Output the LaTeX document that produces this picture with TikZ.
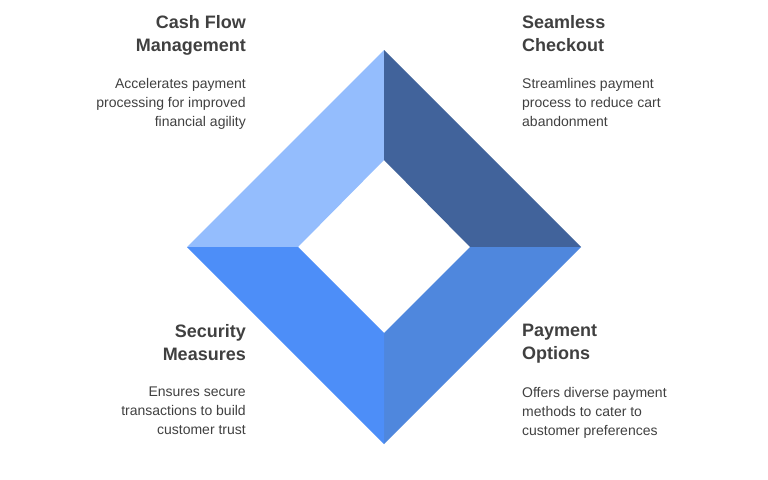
\documentclass[tikz,border=0pt]{standalone}
\usepackage{fontspec}
\setmainfont{Liberation Sans}
\begin{document}
\begin{tikzpicture}[x=1pt,y=-1pt,
  ttl/.style={font=\fontsize{18}{23}\selectfont\bfseries,text=black!75,inner sep=0pt},
  bdy/.style={font=\fontsize{14}{19}\selectfont,text=black!75,inner sep=0pt}]
\useasboundingbox (0,0) rectangle (768,479);
\definecolor{qa}{HTML}{94BDFD}
\definecolor{qb}{HTML}{41639B}
\definecolor{qc}{HTML}{4F87DD}
\definecolor{qd}{HTML}{4D8EF8}
\coordinate (OT) at (384,50); \coordinate (OR) at (581,247);
\coordinate (OB) at (384,444); \coordinate (OL) at (187,247);
\coordinate (IT) at (384,160); \coordinate (IR) at (470,247);
\coordinate (IB) at (384,333); \coordinate (IL) at (298,247);
\fill[qa] (OL)--(OT)--(IT)--(IL)--cycle;
\fill[qb] (OT)--(OR)--(IR)--(IT)--cycle;
\fill[qc] (OR)--(OB)--(IB)--(IR)--cycle;
\fill[qd] (OB)--(OL)--(IL)--(IB)--cycle;
\node[ttl,anchor=north east,align=right] (t1) at (246,15) {Cash Flow\\Management};
\node[bdy,anchor=north east,align=right] (b1) at (246,78) {Accelerates payment\\processing for improved\\financial agility};
\node[ttl,anchor=north west,align=left] (t2) at (522,15) {Seamless\\Checkout};
\node[bdy,anchor=north west,align=left] (b2) at (522,78) {Streamlines payment\\process to reduce cart\\abandonment};
\node[ttl,anchor=north east,align=right] (t3) at (246,324) {Security\\Measures};
\node[bdy,anchor=north east,align=right] (b3) at (246,387) {Ensures secure\\transactions to build\\customer trust};
\node[ttl,anchor=north west,align=left] (t4) at (522,324) {Payment\\Options};
\node[bdy,anchor=north west,align=left] (b4) at (522,387) {Offers diverse payment\\methods to cater to\\customer preferences};
\end{tikzpicture}
\end{document}
